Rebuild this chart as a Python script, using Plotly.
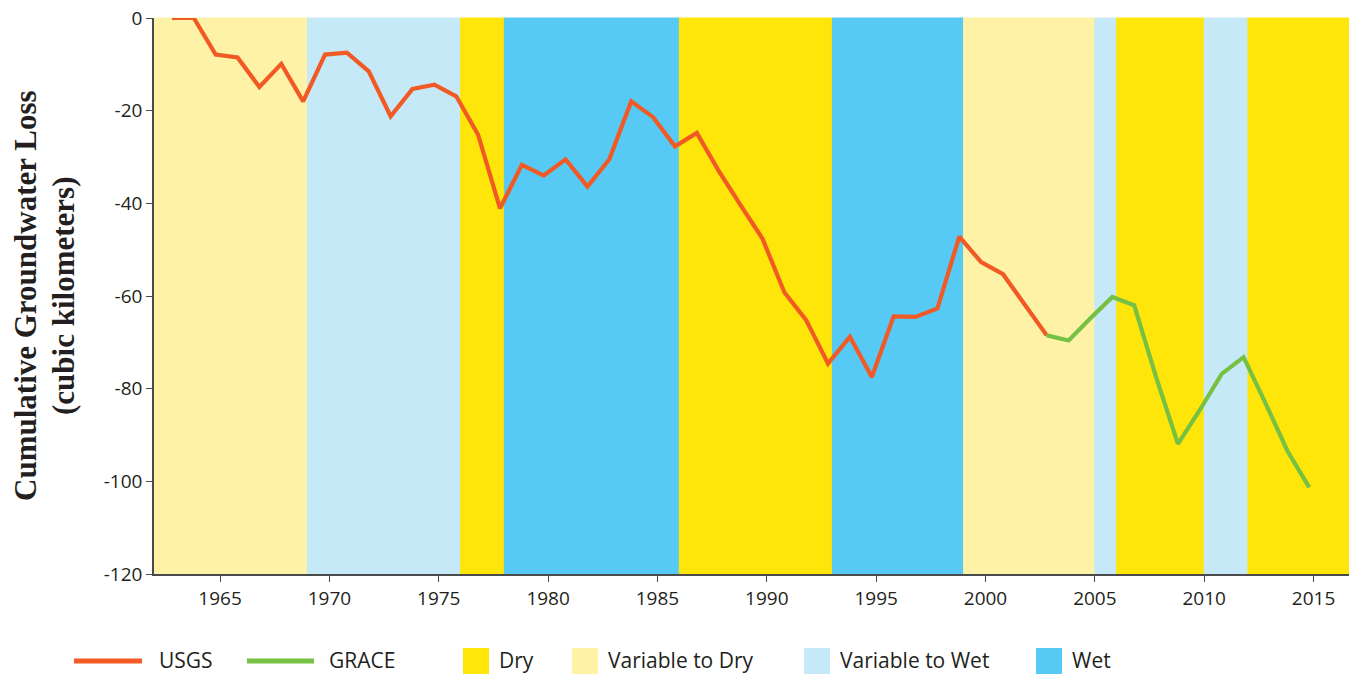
import plotly.graph_objects as go

# ---------------- data ----------------
usgs_years = list(range(1963, 2004))
usgs_values = [0, 0, -7.9, -8.5, -14.9, -9.9, -18.0, -7.9, -7.5, -11.5,
               -21.2, -15.3, -14.4, -16.9, -25.2, -41.1, -31.7, -34.0, -30.5, -36.4,
               -30.5, -18.0, -21.4, -27.7, -24.8, -33.0, -40.4, -47.6, -59.2, -65.2,
               -74.6, -68.8, -77.5, -64.4, -64.5, -62.7, -47.2, -52.7, -55.3, -62.0,
               -68.5]

grace_years = list(range(2003, 2016))
grace_values = [-68.5, -69.6, -64.8, -60.2, -62.0, -77.5, -91.9, -84.6, -76.8,
                -73.2, -83.1, -93.4, -101.3]

band_start = [1961.98, 1969, 1976, 1978, 1986, 1993, 1999, 2005, 2006, 2010, 2012]
band_end = [1969, 1976, 1978, 1986, 1993, 1999, 2005, 2006, 2010, 2012, 2016.62]
band_class = ["Variable to Dry", "Variable to Wet", "Dry", "Wet", "Dry", "Wet",
              "Variable to Dry", "Variable to Wet", "Dry", "Variable to Wet", "Dry"]

x_ticks = [1965, 1970, 1975, 1980, 1985, 1990, 1995, 2000, 2005, 2010, 2015]
y_ticks = [0, -20, -40, -60, -80, -100, -120]
y_tick_labels = ["0", "-20", "-40", "-60", "-80", "-100", "-120"]

# ---------------- styles ----------------
class_colors = {
    "Dry": "#FEE50A",
    "Variable to Dry": "#FDF2A5",
    "Variable to Wet": "#C6E9F8",
    "Wet": "#56CAF5",
}
USGS_COLOR = "#F15A24"
GRACE_COLOR = "#76C043"
AXIS_COLOR = "#4a4a4a"
TEXT_COLOR = "#231F20"
WATER_YEAR_OFFSET = -0.2  # points are drawn slightly before the calendar tick

W, H = 1349, 675
ML, MR, MT, MB = 154, 0, 18, 101
PW, PH = W - ML - MR, H - MT - MB


def px_x(px):
    return (px - ML) / PW


def px_y(py):
    return (H - MB - py) / PH


fig = go.Figure()

for x0, x1, c in zip(band_start, band_end, band_class):
    fig.add_vrect(x0=x0, x1=x1, fillcolor=class_colors[c], opacity=1,
                  line=dict(color=class_colors[c], width=1), layer="below")

fig.add_trace(go.Scatter(
    x=[y + WATER_YEAR_OFFSET for y in usgs_years], y=usgs_values,
    mode="lines", name="USGS",
    line=dict(color=USGS_COLOR, width=4.2), showlegend=False))
fig.add_trace(go.Scatter(
    x=[y + WATER_YEAR_OFFSET for y in grace_years], y=grace_values,
    mode="lines", name="GRACE",
    line=dict(color=GRACE_COLOR, width=4.2), showlegend=False))

fig.update_xaxes(
    range=[band_start[0], band_end[-1]], tickvals=x_ticks,
    showgrid=False, zeroline=False, showline=True, linecolor=AXIS_COLOR,
    linewidth=1.5, ticks="outside", ticklen=6, tickwidth=1.2, tickcolor=AXIS_COLOR,
    tickfont=dict(family="Open Sans", size=19, color=TEXT_COLOR))
fig.update_yaxes(
    range=[-120, 0], tickvals=y_ticks, ticktext=y_tick_labels,
    showgrid=False, zeroline=False, showline=True, linecolor=AXIS_COLOR,
    linewidth=1.5, ticks="outside", ticklen=6, tickwidth=1.2, tickcolor=AXIS_COLOR,
    tickfont=dict(family="Open Sans", size=19, color=TEXT_COLOR))

title_lines = ["Cumulative Groundwater Loss", "(cubic kilometers)"]
annotations = []
for txt, cx in zip(title_lines, [25, 63]):
    annotations.append(dict(
        text="<b>" + txt + "</b>",
        textangle=-90, xref="paper", yref="paper", x=px_x(cx), y=0.5,
        xanchor="center", yanchor="middle", showarrow=False,
        font=dict(family="Liberation Serif", size=31, color=TEXT_COLOR)))

shapes = []
# legend: lines
legend_lines = [("USGS", USGS_COLOR, 74, 142, 157), ("GRACE", GRACE_COLOR, 247, 314, 327)]
for name, col, x0, x1, tx in legend_lines:
    shapes.append(dict(type="line", xref="paper", yref="paper",
                       x0=px_x(x0), x1=px_x(x1), y0=px_y(661), y1=px_y(661),
                       line=dict(color=col, width=5)))
    annotations.append(dict(text=name, xref="paper", yref="paper", x=px_x(tx),
                            y=px_y(660), xanchor="left", yanchor="middle",
                            showarrow=False,
                            font=dict(family="Open Sans", size=21, color=TEXT_COLOR)))
# legend: squares
legend_boxes = [("Dry", 463, 497), ("Variable to Dry", 572, 606),
                ("Variable to Wet", 804, 838), ("Wet", 1036, 1070)]
for name, x0, tx in legend_boxes:
    shapes.append(dict(type="rect", xref="paper", yref="paper",
                       x0=px_x(x0), x1=px_x(x0 + 26), y0=px_y(648), y1=px_y(674),
                       fillcolor=class_colors[name], line=dict(width=0)))
    annotations.append(dict(text=name, xref="paper", yref="paper", x=px_x(tx),
                            y=px_y(660), xanchor="left", yanchor="middle",
                            showarrow=False,
                            font=dict(family="Open Sans", size=21, color=TEXT_COLOR)))

fig.update_layout(
    width=W, height=H, autosize=False,
    margin=dict(l=ML, r=MR, t=MT, b=MB, pad=0),
    paper_bgcolor="white", plot_bgcolor="white",
    showlegend=False, shapes=fig.layout.shapes + tuple(shapes),
    annotations=annotations)

fig.write_html("out.html", include_plotlyjs=True,
               config={"displayModeBar": False},
               post_script="document.body.style.margin='0';document.body.style.overflow='hidden';")
